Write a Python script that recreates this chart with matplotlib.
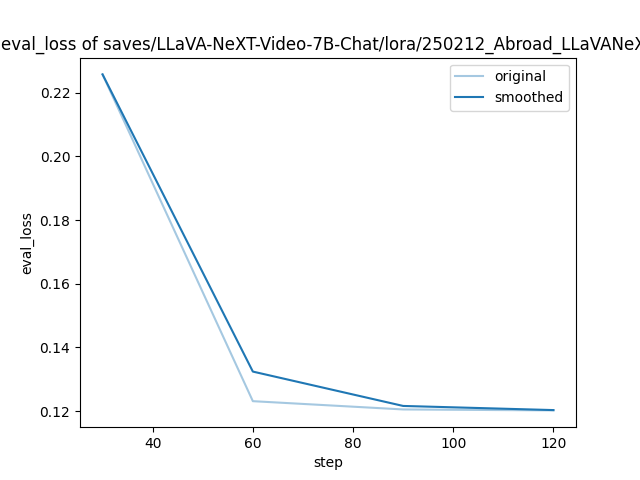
import matplotlib
matplotlib.use("Agg")
import matplotlib.pyplot as plt

steps = [30, 60, 90, 120]
original = [0.2258, 0.1231, 0.1205, 0.1202]
smoothed = [0.2258, 0.1324, 0.1216, 0.1203]
title = "eval_loss of saves/LLaVA-NeXT-Video-7B-Chat/lora/250212_Abroad_LLaVANeXT"

fig = plt.figure(figsize=(6.4, 4.8), dpi=100)
plt.plot(steps, original, color="#1f77b4", alpha=0.4, label="original")
plt.plot(steps, smoothed, color="#1f77b4", label="smoothed")
plt.title(title)
plt.xlabel("step")
plt.ylabel("eval_loss")
plt.legend()
plt.savefig("out.png", dpi=100)
